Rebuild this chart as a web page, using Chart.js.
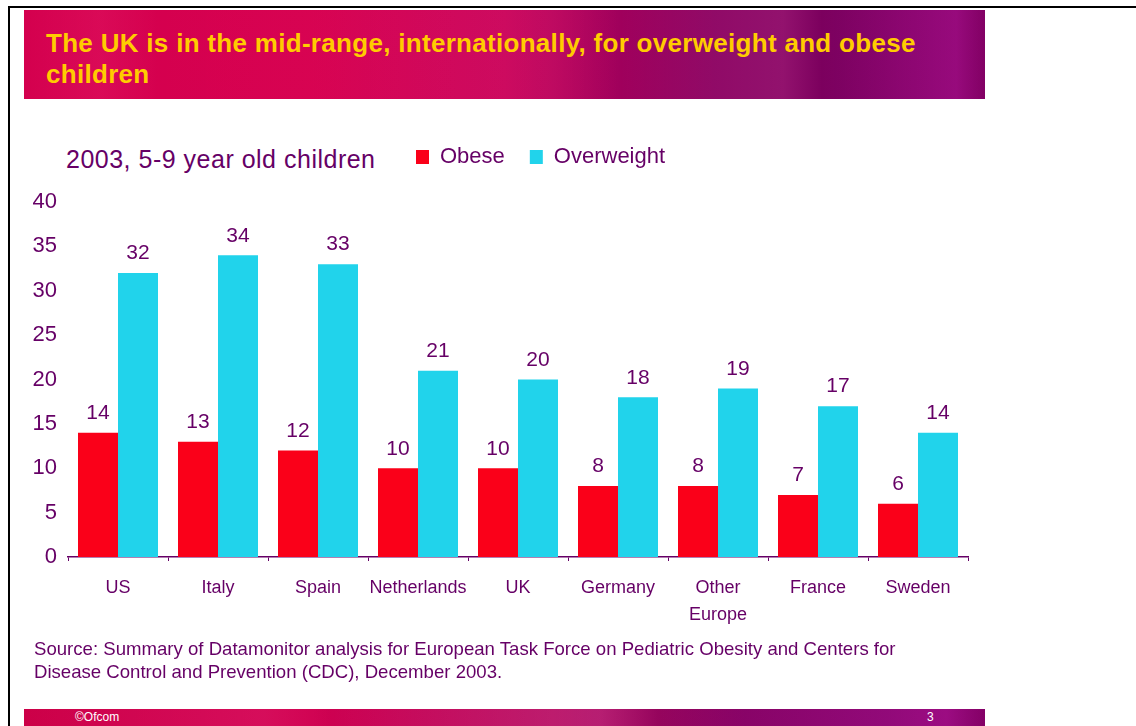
<!DOCTYPE html>
<html>
<head>
<meta charset="utf-8">
<script src="https://cdn.jsdelivr.net/npm/chart.js@4/dist/chart.umd.min.js"></script>
<style>
  body { margin: 0; background: #fff; font-family: Arial, "Liberation Sans", sans-serif; }
  #page { position: relative; width: 1136px; height: 726px; overflow: hidden; }
  #frameTop { position: absolute; left: 8px; top: 6px; width: 1128px; height: 2px; background: #000; }
  #frameLeft { position: absolute; left: 8px; top: 6px; width: 2px; height: 720px; background: #000; }
  #banner {
    position: absolute; left: 24px; top: 10px; width: 961px; height: 89px;
    background:
      linear-gradient(90deg, rgba(255,255,255,0) 0%, rgba(255,80,150,0.12) 8%, rgba(255,255,255,0) 14%, rgba(255,80,150,0.10) 55%, rgba(255,255,255,0) 62%, rgba(255,120,200,0.15) 79%, rgba(255,255,255,0) 83%, rgba(220,40,200,0.25) 97%, rgba(255,255,255,0) 100%),
      linear-gradient(90deg, #d4004e 0%, #d6004f 30%, #c8045a 50%, #a0005c 62%, #86005e 72%, #7a005e 85%, #820064 100%);
  }
  #title {
    position: absolute; left: 46px; top: 28px; color: #ffcc00;
    font-weight: bold; font-size: 26px; letter-spacing: 0.3px; line-height: 31px; white-space: nowrap;
  }
  #subtitle { position: absolute; left: 66px; top: 145px; color: #660066; font-size: 25px; letter-spacing: 0.5px; white-space: nowrap; }
  #chartBox { position: absolute; left: 0; top: 113px; width: 1136px; height: 530px; }
  #source { position: absolute; left: 34px; top: 637px; color: #660066; font-size: 18.6px; line-height: 23px; white-space: nowrap; }
  #footer {
    position: absolute; left: 24px; top: 709px; width: 961px; height: 17px;
    background:
      linear-gradient(90deg, rgba(255,255,255,0) 0%, rgba(255,90,160,0.15) 25%, rgba(255,255,255,0) 32%, rgba(255,120,200,0.2) 60%, rgba(255,255,255,0) 66%, rgba(220,40,200,0.3) 96%, rgba(255,255,255,0) 100%),
      linear-gradient(90deg, #cc0048 0%, #cf0050 30%, #b00a5c 55%, #80005e 75%, #7a0060 90%, #840066 100%);
  }
  #ofcom { position: absolute; left: 51px; top: 1px; color: #fff; font-size: 12px; }
  #pageNo { position: absolute; left: 903px; top: 1px; color: #fff; font-size: 12px; }
</style>
</head>
<body>
<div id="page">
  <div id="frameTop"></div>
  <div id="frameLeft"></div>
  <div id="banner"></div>
  <div id="title">The UK is in the mid-range, internationally, for overweight and obese<br>children</div>
  <div id="subtitle">2003, 5-9 year old children</div>
  <div id="chartBox"><canvas id="chart"></canvas></div>
  <div id="source">Source: Summary of Datamonitor analysis for European Task Force on Pediatric Obesity and Centers for<br>Disease Control and Prevention (CDC), December 2003.</div>
  <div id="footer"><span id="ofcom">©Ofcom</span><span id="pageNo">3</span></div>
</div>
<script>
const countries = ['US', 'Italy', 'Spain', 'Netherlands', 'UK', 'Germany', ['Other', 'Europe'], 'France', 'Sweden'];
const obese = [14, 13, 12, 10, 10, 8, 8, 7, 6];
const overweight = [32, 34, 33, 21, 20, 18, 19, 17, 14];
const yTicks = [0, 5, 10, 15, 20, 25, 30, 35, 40];

const purple = '#660066';
Chart.defaults.font.family = 'Arial, "Liberation Sans", sans-serif';
Chart.defaults.color = purple;

// legend sits on the same line as the subtitle: push it right/down and leave room below it
const legendShift = {
  id: 'legendShift',
  beforeInit(chart) {
    const fit = chart.legend.fit;
    chart.legend.fit = function () {
      fit.call(this);
      this.height += 32;
    };
  },
  afterLayout(chart) {
    const lg = chart.legend;
    lg.left += 391;
    lg.right += 391;
    lg.top += 8;
    lg.bottom += 8;
  }
};

// value labels above each bar
const barValues = {
  id: 'barValues',
  afterDatasetsDraw(chart) {
    const ctx = chart.ctx;
    ctx.save();
    ctx.fillStyle = purple;
    ctx.font = '21px Arial, "Liberation Sans", sans-serif';
    ctx.textAlign = 'center';
    ctx.textBaseline = 'bottom';
    chart.data.datasets.forEach((ds, i) => {
      chart.getDatasetMeta(i).data.forEach((bar, j) => {
        ctx.fillText(ds.data[j], bar.x, bar.y - 9);
      });
    });
    ctx.restore();
  }
};

new Chart(document.getElementById('chart'), {
  type: 'bar',
  data: {
    labels: countries,
    datasets: [
      {
        label: 'Obese',
        data: obese,
        backgroundColor: '#fa0019',
        borderWidth: 0,
        categoryPercentage: 0.8,
        barPercentage: 1.0
      },
      {
        label: 'Overweight',
        data: overweight,
        backgroundColor: '#21d3eb',
        borderWidth: 0,
        categoryPercentage: 0.8,
        barPercentage: 1.0
      }
    ]
  },
  options: {
    responsive: true,
    maintainAspectRatio: false,
    animation: false,
    layout: { padding: { left: 0, right: 168, top: 0, bottom: 0 } },
    plugins: {
      legend: {
        position: 'top',
        align: 'start',
        labels: {
          boxWidth: 13,
          boxHeight: 14,
          padding: 25,
          color: purple,
          font: { size: 22 }
        }
      },
      tooltip: { enabled: false }
    },
    scales: {
      x: {
        border: { color: purple, width: 1.5 },
        grid: { display: true, drawOnChartArea: false, tickLength: 4, color: purple, offset: true },
        ticks: { color: purple, font: { size: 18, lineHeight: 1.5 }, padding: 14, maxRotation: 0, autoSkip: false }
      },
      y: {
        min: 0,
        max: 40,
        border: { display: false },
        grid: { display: false, drawTicks: false },
        afterBuildTicks(scale) { scale.ticks = yTicks.map(v => ({ value: v })); },
        afterFit(scale) { scale.width = 68; },
        ticks: { color: purple, font: { size: 22 }, padding: 11 }
      }
    }
  },
  plugins: [legendShift, barValues]
});
</script>
</body>
</html>
